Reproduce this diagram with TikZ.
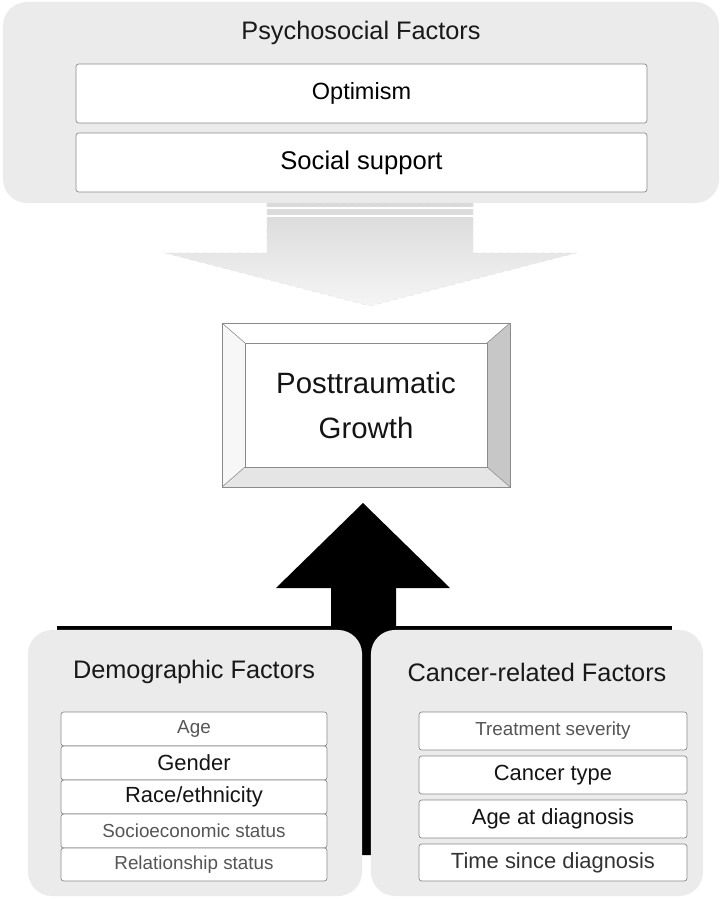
\documentclass[tikz,border=0pt]{standalone}
\usepackage{fontspec}
\setmainfont{Liberation Sans}
\usepackage{tikz}
\usetikzlibrary{positioning, calc}
\usepackage{xcolor}
\definecolor{panelgray}{HTML}{EBEBEB}
\definecolor{framegray}{HTML}{8A8A8A}
\definecolor{softtext}{HTML}{555555}

\begin{document}
\begin{tikzpicture}[
    x=0.025cm, y=-0.025cm,
    panel/.style={fill=panelgray, rounded corners=0.6cm, inner sep=0pt},
    heading/.style={font=\fontsize{18}{22}\selectfont, text=black!90},
    item/.style={draw=framegray, fill=white, rounded corners=2pt, inner sep=0pt, line width=0.5pt},
    faint/.style={text=softtext, font=\fontsize{13.4}{16}\selectfont},
    strong/.style={text=black!92, font=\fontsize{15.6}{18}\selectfont}
]
    \useasboundingbox (0,0) rectangle (721,899);

    % Psychosocial panel on top:
    \node[panel, minimum width=17.9cm, minimum height=5.025cm] (psy) at (361,102.5) {};
    \node[heading] (psyT) at (361,33) {Psychosocial Factors};
    \node[item, minimum width=14.275cm, minimum height=1.475cm, font=\fontsize{16.7}{20}\selectfont] (opt) at (361.5,93.5) {Optimism};
    \node[item, minimum width=14.275cm, minimum height=1.475cm, font=\fontsize{18.2}{22}\selectfont] (soc) at (361.5,162.5) {Social support};

    % Light arrow down into the growth box
    \coordinate (dtip) at (370,306);
    \shade[top color=black!15, bottom color=black!4, draw=black!10, dashed]
        (267,203) -- (267,253) -- (165,253) -- (dtip) -- (576,253) -- (473,253) -- (473,203) -- cycle;
    \draw[white, line width=1.2pt] (267,208) -- (473,208);
    \draw[white, line width=1.2pt] (267,216) -- (473,216);

    % Bevelled frame:
    \coordinate (oNW) at (222,323); \coordinate (oNE) at (510,323);
    \coordinate (oSW) at (222,487); \coordinate (oSE) at (510,487);
    \coordinate (iNW) at (245,343); \coordinate (iNE) at (487,343);
    \coordinate (iSW) at (245,467); \coordinate (iSE) at (487,467);
    \fill[white] (oNW) -- (oNE) -- (iNE) -- (iNW) -- cycle;
    \fill[black!3] (oNW) -- (iNW) -- (iSW) -- (oSW) -- cycle;
    \fill[black!22] (oNE) -- (oSE) -- (iSE) -- (iNE) -- cycle;
    \fill[black!10] (oSW) -- (iSW) -- (iSE) -- (oSE) -- cycle;
    \draw[framegray, line width=0.5pt] (oNW) rectangle (oSE);
    \draw[framegray, line width=0.5pt] (iNW) rectangle (iSE);
    \draw[framegray, line width=0.4pt] (oNW) -- (iNW) (oNE) -- (iNE) (oSW) -- (iSW) (oSE) -- (iSE);
    \node[align=center, font=\fontsize{20.9}{32}\selectfont, text=black!92] (ptg) at (366,405) {Posttraumatic\\Growth};

    % Black arrow up from the two lower panels
    \draw[black, line width=2.8pt] (57,628) -- (672,628);
    \fill[black] (331,855) -- (331,588) -- (276,588) -- (363,503) -- (450,588) -- (396,588) -- (396,855) -- cycle;

    % Demographic panel:
    \node[panel, minimum width=8.35cm, minimum height=6.65cm] (demo) at (195,763) {};
    \node[heading] (demoT) at (194,672) {Demographic Factors};
    \node[item, minimum width=6.65cm, minimum height=0.85cm, faint] (age) at (194,729) {Age};
    \node[item, minimum width=6.65cm, minimum height=0.85cm, strong] (gen) at (194,763) {Gender};
    \node[item, minimum width=6.65cm, minimum height=0.85cm, strong] (race) at (194,797) {Race/ethnicity};
    \node[item, minimum width=6.65cm, minimum height=0.85cm, faint] (ses) at (194,831) {Socioeconomic status};
    \node[item, minimum width=6.65cm, minimum height=0.825cm, faint] (rel) at (194,864.5) {Relationship status};

    % Cancer panel:
    \node[panel, minimum width=8.3cm, minimum height=6.65cm] (canc) at (537,763) {};
    \node[heading] (cancT) at (537,672) {Cancer-related Factors};
    \node[item, minimum width=6.7cm, minimum height=0.95cm, faint] (treat) at (553,731) {Treatment severity};
    \node[item, minimum width=6.7cm, minimum height=0.95cm, strong] (ctype) at (553,775) {Cancer type};
    \node[item, minimum width=6.7cm, minimum height=0.95cm, strong] (adiag) at (553,819) {Age at diagnosis};
    \node[item, minimum width=6.7cm, minimum height=0.925cm, strong, text=black!80] (tsd) at (553,862.5) {Time since diagnosis};
\end{tikzpicture}
\end{document}
